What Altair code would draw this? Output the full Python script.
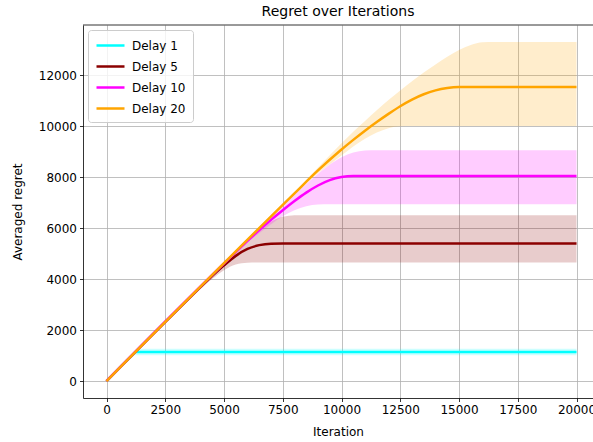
import altair as alt
import pandas as pd

series_names = ["Delay 1", "Delay 5", "Delay 10", "Delay 20"]
series_colors = ["#00ffff", "#8b0000", "#ff00ff", "#ffa500"]

d1_iter = [0, 600, 1150, 1240, 1330, 20000]
d1_mean = [0, 552, 1058, 1140, 1140, 1140]
d1_lo = [0, 552, 1040, 1010, 1010, 1010]
d1_hi = [0, 560, 1100, 1200, 1270, 1270]

d5_iter = [0, 4000, 4500, 5000, 5500, 6000, 6500, 7000, 7500, 8000, 20000]
d5_mean = [0, 3680, 4130, 4540, 4910, 5180, 5330, 5385, 5390, 5390, 5390]
d5_lo = [0, 3640, 4010, 4350, 4570, 4640, 4650, 4650, 4650, 4650, 4650]
d5_hi = [0, 3700, 4150, 4600, 5060, 5500, 5910, 6250, 6440, 6500, 6500]

d10_iter = [0, 5500, 6000, 6500, 7000, 7500, 8000, 8500, 9000, 9500, 10000, 10500, 11000, 11500, 20000]
d10_mean = [0, 5060, 5500, 5920, 6320, 6700, 7060, 7390, 7670, 7880, 8000, 8040, 8040, 8040, 8040]
d10_lo = [0, 5040, 5440, 5800, 6150, 6460, 6700, 6860, 6920, 6930, 6930, 6930, 6930, 6930, 6930]
d10_hi = [0, 5080, 5540, 5990, 6440, 6880, 7310, 7730, 8130, 8490, 8780, 8960, 9040, 9055, 9055]

d20_iter = [0, 8000, 9000, 10000, 10500, 11000, 11500, 12000, 12500, 13000, 13500, 14000, 14500, 15000, 15500, 16000, 16500, 20000]
d20_mean = [0, 7360, 8260, 9080, 9460, 9820, 10160, 10480, 10780, 11040, 11250, 11400, 11490, 11530, 11535, 11535, 11535, 11535]
d20_lo = [0, 7320, 8150, 8850, 9200, 9500, 9750, 9920, 9990, 10000, 10000, 10000, 10000, 10000, 10000, 10000, 10000, 10000]
d20_hi = [0, 7400, 8380, 9330, 9780, 10200, 10620, 11020, 11400, 11760, 12100, 12420, 12720, 12980, 13180, 13290, 13300, 13300]

x_ticks = [0, 2500, 5000, 7500, 10000, 12500, 15000, 17500, 20000]
y_ticks = [0, 2000, 4000, 6000, 8000, 10000, 12000]

rows = []
for name, it, m, lo, hi in [
    ("Delay 1", d1_iter, d1_mean, d1_lo, d1_hi),
    ("Delay 5", d5_iter, d5_mean, d5_lo, d5_hi),
    ("Delay 10", d10_iter, d10_mean, d10_lo, d10_hi),
    ("Delay 20", d20_iter, d20_mean, d20_lo, d20_hi),
]:
    for a, b, c, d in zip(it, m, lo, hi):
        rows.append({"series": name, "iteration": a, "mean": b, "lo": c, "hi": d})
df = pd.DataFrame(rows)

FONT = "DejaVu Sans"

xscale = alt.Scale(domain=[-1000, 20702], nice=False, zero=False)
yscale = alt.Scale(domain=[-665, 13965], nice=False, zero=False)
cscale = alt.Scale(domain=series_names, range=series_colors)

xaxis = alt.Axis(values=x_ticks, title="Iteration", grid=True, labelFlush=False,
                 labelOverlap=False, format="d")
yaxis = alt.Axis(values=y_ticks, title="Averaged regret", grid=True, format="d")

legend = alt.Legend(
    title=None, orient="none", legendX=5, legendY=5,
    symbolType="M-2,0H2", symbolSize=196, symbolStrokeWidth=2.5,
    symbolOpacity=1, symbolFillColor="transparent",
    symbolOffset=7, labelOffset=13,
    labelFont=FONT, labelFontSize=12, labelColor="black",
    fillColor="rgba(255,255,255,0.8)", strokeColor="#cccccc",
    cornerRadius=3, padding=7, rowPadding=6,
)

base = alt.Chart(df)

bands = base.mark_area(opacity=0.2, interpolate="monotone").encode(
    x=alt.X("iteration:Q", scale=xscale, axis=xaxis),
    y=alt.Y("lo:Q", scale=yscale, axis=yaxis),
    y2="hi:Q",
    color=alt.Color("series:N", scale=cscale, sort=series_names, legend=legend),
)

lines = base.mark_line(strokeWidth=2.5, interpolate="monotone").encode(
    x=alt.X("iteration:Q", scale=xscale, axis=xaxis),
    y=alt.Y("mean:Q", scale=yscale, axis=yaxis),
    color=alt.Color("series:N", scale=cscale, sort=series_names, legend=legend),
)

topspine = alt.Chart(pd.DataFrame({"k": [0]})).mark_rule(
    color="black", strokeWidth=0.8
).encode(x=alt.value(0), x2=alt.value(510), y=alt.value(0))

chart = (
    alt.layer(bands, lines, topspine)
    .properties(
        width=510, height=373,
        autosize=alt.AutoSizeParams(type="none"),
        padding={"left": 83, "top": 25, "right": 0, "bottom": 44},
        title=alt.TitleParams("Regret over Iterations", font=FONT, fontSize=14,
                              fontWeight="normal", color="black", anchor="middle",
                              offset=6),
    )
    .configure_view(stroke=None)
    .configure_axis(
        labelFont=FONT, labelFontSize=12, labelColor="black",
        titleFont=FONT, titleFontSize=12, titleFontWeight="normal", titleColor="black",
        domainColor="black", domainWidth=0.8, tickColor="black", tickWidth=0.8,
        tickSize=3.5, labelPadding=3, gridColor="#b0b0b0", gridWidth=0.8,
    )
    .configure_axisX(titlePadding=11)
    .configure_axisY(titlePadding=14)
)

chart.save("out.html", embed_options={"renderer": "svg", "actions": False})
